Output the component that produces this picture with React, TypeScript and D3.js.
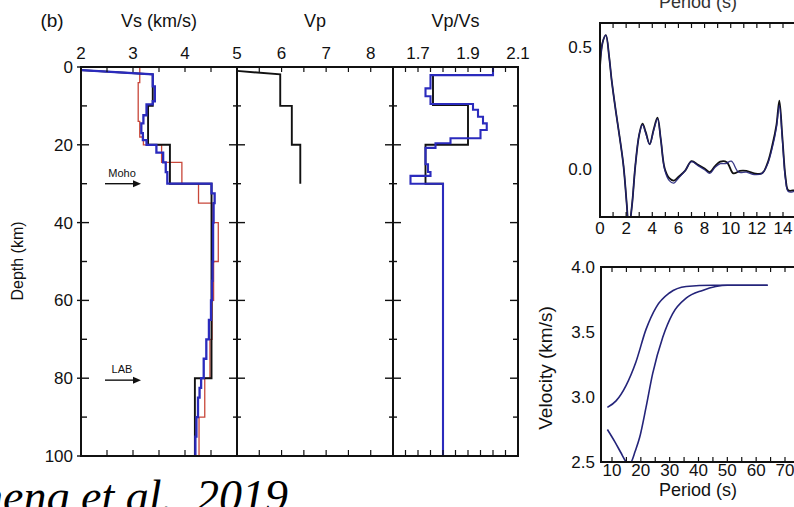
import React from "react";
import * as d3 from "d3";

// ---------- Depth profiles (layer tops in km, layer values) ----------
const MODEL_BOTTOM = 100;

// true model (black)
const vsTrueStart: [number, number] = [2.0, 0.8];
const vsTrueTops = [1.9, 10, 20, 30, 80];
const vsTrueVals = [3.38, 3.29, 3.71, 4.51, 4.19];

// inverted model (blue)
const vsInvStart: [number, number] = [2.01, 0.8];
const vsInvTops = [1.9, 5.0, 8.8, 9.6, 12.4, 14.5, 17.0, 18.8, 20, 22, 24.5, 27, 30, 32.5, 35, 40, 45, 50, 55, 60, 65, 70, 75, 80, 82.5, 85, 90, 95];
const vsInvVals = [3.38, 3.42, 3.38, 3.26, 3.20, 3.16, 3.19, 3.26, 3.45, 3.58, 3.63, 3.66, 4.51, 4.57, 4.55, 4.54, 4.54, 4.53, 4.52, 4.50, 4.46, 4.41, 4.36, 4.31, 4.28, 4.25, 4.22, 4.20];

// initial model (red)
const vsInitTops = [0, 4, 14, 18, 20, 24.5, 30, 35, 40, 50, 60, 70, 80, 90];
const vsInitVals = [3.13, 3.10, 3.13, 3.20, 3.55, 3.94, 4.26, 4.52, 4.64, 4.55, 4.52, 4.48, 4.38, 4.27];

// Vp (black), crust only
const vpStart: [number, number] = [5.0, 1.0];
const vpTops = [1.9, 10, 20];
const vpVals = [5.97, 6.23, 6.42];
const VP_BOTTOM = 30;

// Vp/Vs
const ratioTrueTops = [2.1, 9.8, 20, 30];
const ratioTrueVals = [1.76, 1.90, 1.73, 1.80];
const ratioInvTops = [0, 2.1, 5.5, 7.5, 9.5, 11, 12.8, 14.5, 16.2, 18.3, 19.6, 20.8, 25, 27, 28, 30];
const ratioInvVals = [2.0, 1.75, 1.73, 1.75, 1.92, 1.94, 1.96, 1.975, 1.95, 1.83, 1.77, 1.73, 1.74, 1.75, 1.67, 1.80];

// ---------- Receiver function (time s, amplitude) ----------
const rfTime = [0, 0.2, 0.45, 0.7, 0.9, 1.2, 1.5, 1.8, 2.05, 2.2, 2.45, 2.7, 3.0, 3.25, 3.5, 3.8, 4.1, 4.4, 4.65, 4.95, 5.3, 5.65, 6.0, 6.5, 7.0, 7.5, 8.0, 8.4, 8.8, 9.2, 9.7, 10.2, 10.7, 11.2, 11.8, 12.4, 12.8, 13.2, 13.5, 13.72, 13.95, 14.2, 14.4, 14.8, 15.2];
const rfObs = [0.42, 0.52, 0.55, 0.46, 0.36, 0.24, 0.13, 0.01, -0.15, -0.25, -0.15, 0.01, 0.14, 0.185, 0.15, 0.10, 0.16, 0.21, 0.12, 0.0, -0.04, -0.05, -0.035, -0.01, 0.03, 0.015, 0.0, -0.015, 0.01, 0.028, 0.026, -0.02, -0.01, -0.01, -0.02, -0.02, 0.02, 0.10, 0.18, 0.28, 0.13, -0.04, -0.09, -0.09, -0.08];
const rfPredTime = [0, 0.2, 0.45, 0.7, 0.9, 1.2, 1.5, 1.8, 2.05, 2.2, 2.45, 2.7, 3.0, 3.25, 3.5, 3.8, 4.1, 4.4, 4.65, 4.95, 5.3, 5.65, 6.0, 6.5, 7.0, 7.5, 8.0, 8.4, 8.8, 9.2, 9.6, 10.05, 10.6, 11.2, 11.8, 12.4, 12.8, 13.2, 13.5, 13.72, 13.95, 14.2, 14.4, 14.8, 15.2];
const rfPred = [0.42, 0.52, 0.55, 0.46, 0.36, 0.24, 0.13, 0.01, -0.15, -0.25, -0.15, 0.01, 0.14, 0.18, 0.145, 0.10, 0.155, 0.205, 0.12, -0.005, -0.05, -0.06, -0.04, -0.01, 0.028, 0.012, -0.005, -0.02, 0.005, 0.02, 0.02, 0.03, -0.015, -0.015, -0.025, -0.02, 0.015, 0.09, 0.17, 0.26, 0.12, -0.05, -0.095, -0.095, -0.08];

// ---------- Surface-wave dispersion (period s, velocity km/s) ----------
const dispUpperPeriod = [8.4, 11.4, 14.9, 18.3, 21.8, 25.3, 29.9, 35.7, 45, 55, 64];
const dispUpperVel = [2.92, 2.97, 3.09, 3.27, 3.52, 3.69, 3.80, 3.85, 3.86, 3.86, 3.86];
const dispLowerPeriod = [8.4, 11, 13, 14.9, 15.8, 16.7, 18, 19.6, 21.8, 24.1, 27.6, 31, 35.7, 41.4, 46, 50, 55, 64];
const dispLowerVel = [2.75, 2.655, 2.575, 2.50, 2.475, 2.50, 2.58, 2.69, 2.92, 3.18, 3.46, 3.64, 3.76, 3.82, 3.85, 3.86, 3.86, 3.86];

// ---------- Tick labels ----------
const depthLabels = [0, 20, 40, 60, 80, 100];
const vsLabels = [2, 3, 4, 5];
const vpLabels = [6, 7, 8];
const ratioLabels = [1.7, 1.9, 2.1];
const rfTimeLabels = [0, 2, 4, 6, 8, 10, 12, 14];
const rfAmpLabels = [0.5, 0.0];
const periodLabels = [10, 20, 30, 40, 50, 60, 70];
const velLabels = [4.0, 3.5, 3.0, 2.5];

const SANS = "'Liberation Sans', Arial, Helvetica, sans-serif";
const BLUE = "#2b2bbd";
const NAVY = "#24247a";
const RED = "#c8473a";
const INK = "#111";

function stepPoints(tops: number[], vals: number[], bottom: number, start?: [number, number]) {
  const pts: [number, number][] = start ? [start] : [];
  tops.forEach((t, i) => {
    const b = i < tops.length - 1 ? tops[i + 1] : bottom;
    pts.push([vals[i], t], [vals[i], b]);
  });
  return pts;
}

export default function App() {
  // depth panels
  const yD = d3.scaleLinear().domain([0, 100]).range([67, 456]);
  const xVs = d3.scaleLinear().domain([2, 5]).range([81, 237]);
  const xVp = d3.scaleLinear().domain([5, 8.5]).range([237, 393]);
  const xR = d3.scaleLinear().domain([1.6, 2.1]).range([393, 518]);
  const top = 67, bot = 456;

  const lineVs = d3.line<[number, number]>().x((p) => xVs(p[0])).y((p) => yD(p[1]));
  const lineVp = d3.line<[number, number]>().x((p) => xVp(p[0])).y((p) => yD(p[1]));
  const lineR = d3.line<[number, number]>().x((p) => xR(p[0])).y((p) => yD(p[1]));

  const vsTrue = stepPoints(vsTrueTops, vsTrueVals, MODEL_BOTTOM, vsTrueStart);
  const vsInv = stepPoints(vsInvTops, vsInvVals, MODEL_BOTTOM, vsInvStart);
  const vsInit = stepPoints(vsInitTops, vsInitVals, MODEL_BOTTOM);
  const vp = stepPoints(vpTops, vpVals, VP_BOTTOM, vpStart);
  const rTrue = stepPoints(ratioTrueTops, ratioTrueVals, MODEL_BOTTOM);
  const rInv = stepPoints(ratioInvTops, ratioInvVals, MODEL_BOTTOM);

  // receiver function panel
  const xT = d3.scaleLinear().domain([0, 14]).range([600, 783]);
  const yA = d3.scaleLinear().domain([-0.2, 0.6]).range([217, 23]);
  const rfLine = d3
    .line<number>()
    .x((_, i) => xT(rfTime[i]))
    .y((a) => yA(a))
    .curve(d3.curveCatmullRom);
  const rfPredLine = d3
    .line<number>()
    .x((_, i) => xT(rfPredTime[i]))
    .y((a) => yA(a))
    .curve(d3.curveCatmullRom);

  // dispersion panel
  const xP = d3.scaleLinear().domain([10, 70]).range([612, 785]);
  const yV = d3.scaleLinear().domain([2.5, 4.0]).range([462, 267]);
  const dispUpper = d3
    .line<number>()
    .x((_, i) => xP(dispUpperPeriod[i]))
    .y((v) => yV(v))
    .curve(d3.curveMonotoneX);
  const dispLower = d3
    .line<number>()
    .x((_, i) => xP(dispLowerPeriod[i]))
    .y((v) => yV(v))
    .curve(d3.curveMonotoneX);

  const depthTicks = d3.range(0, 101, 10);
  const vsTicks = d3.range(2.5, 5, 0.5);
  const vpTicks = d3.range(5.5, 8.5, 0.5);
  const rTicks = d3.range(1.65, 2.09, 0.05);

  const rfL = 600, rfR = 800, rfT = 23, rfB = 217;
  const dpL = 601, dpR = 800, dpT = 267, dpB = 462;

  const arrow = (y: number, label: string) => (
    <g>
      <text x={122} y={y - 7} textAnchor="middle" fontSize={11} fontFamily={SANS} fill={INK}>
        {label}
      </text>
      <line x1={105} x2={134} y1={y} y2={y} stroke={INK} strokeWidth={1.4} />
      <path d={`M${141},${y} L${133},${y - 3.5} L${133},${y + 3.5} Z`} fill={INK} />
    </g>
  );

  return (
    <div style={{ position: "absolute", left: 0, top: 0 }}>
      <svg width={794} height={507} style={{ display: "block", background: "#fff" }}>
        <defs>
          <clipPath id="clip-depth">
            <rect x={81} y={top} width={437} height={bot - top} />
          </clipPath>
          <clipPath id="clip-rf">
            <rect x={rfL} y={rfT} width={rfR - rfL} height={rfB - rfT} />
          </clipPath>
          <clipPath id="clip-disp">
            <rect x={dpL} y={dpT} width={dpR - dpL} height={dpB - dpT} />
          </clipPath>
        </defs>

        {/* panel titles */}
        <text x={52} y={27} textAnchor="middle" fontSize={19} fontFamily={SANS} fill={INK}>(b)</text>
        <text x={159} y={27} textAnchor="middle" fontSize={18} fontFamily={SANS} fill={INK}>Vs (km/s)</text>
        <text x={315} y={27} textAnchor="middle" fontSize={18} fontFamily={SANS} fill={INK}>Vp</text>
        <text x={455.5} y={27} textAnchor="middle" fontSize={18} fontFamily={SANS} fill={INK}>Vp/Vs</text>

        {/* top tick labels */}
        {vsLabels.map((v) => (
          <text key={"vs" + v} x={xVs(v)} y={59} textAnchor="middle" fontSize={17} fontFamily={SANS} fill={INK}>{v}</text>
        ))}
        {vpLabels.map((v) => (
          <text key={"vp" + v} x={xVp(v)} y={59} textAnchor="middle" fontSize={17} fontFamily={SANS} fill={INK}>{v}</text>
        ))}
        {ratioLabels.map((v) => (
          <text key={"r" + v} x={xR(v)} y={59} textAnchor="middle" fontSize={17} fontFamily={SANS} fill={INK}>{v.toFixed(1)}</text>
        ))}

        {/* depth labels */}
        {depthLabels.map((d) => (
          <text key={"d" + d} x={73} y={yD(d) + 6} textAnchor="end" fontSize={17} fontFamily={SANS} fill={INK}>{d}</text>
        ))}
        <text transform={`translate(23,261) rotate(-90)`} textAnchor="middle" fontSize={16} fontFamily={SANS} fill={INK}>Depth (km)</text>

        {/* profiles */}
        <g clipPath="url(#clip-depth)" fill="none" strokeLinejoin="miter">
          <path d={lineVs(vsInit) ?? ""} stroke={RED} strokeWidth={1.3} />
          <path d={lineVs(vsTrue) ?? ""} stroke={INK} strokeWidth={1.9} />
          <path d={lineVs(vsInv) ?? ""} stroke={BLUE} strokeWidth={2.3} />
          <path d={lineVp(vp) ?? ""} stroke={INK} strokeWidth={1.9} />
          <path d={lineR(rTrue) ?? ""} stroke={INK} strokeWidth={1.9} />
          <path d={lineR(rInv) ?? ""} stroke={BLUE} strokeWidth={2.1} />
        </g>

        {/* frames */}
        <g stroke={INK} strokeWidth={2} fill="none">
          <line x1={80} x2={519} y1={top} y2={top} />
          <line x1={80} x2={519} y1={bot} y2={bot} />
          {[81, 237, 393, 518].map((x) => (
            <line key={"fx" + x} x1={x} x2={x} y1={top} y2={bot} />
          ))}
        </g>

        {/* depth ticks */}
        <g stroke={INK} strokeWidth={1.4}>
          {depthTicks.map((d) => {
            const major = d % 20 === 0;
            const y = yD(d);
            return (
              <g key={"dt" + d}>
                <line x1={major ? 77 : 81} x2={major ? 89 : 87} y1={y} y2={y} />
                <line x1={major ? 229 : 233} x2={major ? 245 : 241} y1={y} y2={y} />
                <line x1={major ? 385 : 389} x2={major ? 401 : 397} y1={y} y2={y} />
                <line x1={major ? 510 : 513} x2={518} y1={y} y2={y} />
              </g>
            );
          })}
        </g>

        {/* top / bottom ticks */}
        <g stroke={INK} strokeWidth={1.2}>
          {vsTicks.map((v) => (
            <g key={"vst" + v}>
              <line x1={xVs(v)} x2={xVs(v)} y1={top} y2={top + 5} />
              <line x1={xVs(v)} x2={xVs(v)} y1={bot} y2={bot - 6} />
            </g>
          ))}
          {vpTicks.map((v) => (
            <g key={"vpt" + v}>
              <line x1={xVp(v)} x2={xVp(v)} y1={top} y2={top + 5} />
              <line x1={xVp(v)} x2={xVp(v)} y1={bot} y2={bot - 6} />
            </g>
          ))}
          {rTicks.map((v) => (
            <g key={"rt" + v}>
              <line x1={xR(v)} x2={xR(v)} y1={top} y2={top + 5} />
              <line x1={xR(v)} x2={xR(v)} y1={bot} y2={bot - 6} />
            </g>
          ))}
        </g>

        {arrow(yD(30), "Moho")}
        {arrow(yD(80.5), "LAB")}

        {/* receiver function panel */}
        <text x={698} y={8} textAnchor="middle" fontSize={18} fontFamily={SANS} fill="#333">Period (s)</text>
        <g clipPath="url(#clip-rf)" fill="none">
          <path d={rfLine(rfObs) ?? ""} stroke={INK} strokeWidth={1.8} />
          <path d={rfPredLine(rfPred) ?? ""} stroke={NAVY} strokeWidth={1.3} opacity={0.9} />
        </g>
        <rect x={rfL} y={rfT} width={rfR - rfL} height={rfB - rfT} fill="none" stroke={INK} strokeWidth={2} />
        <g stroke={INK} strokeWidth={1.2}>
          {d3.range(1, 15).map((t) => (
            <g key={"rft" + t}>
              <line x1={xT(t)} x2={xT(t)} y1={rfT} y2={rfT + 5} />
              <line x1={xT(t)} x2={xT(t)} y1={rfB} y2={rfB - 5} />
            </g>
          ))}
        </g>
        {rfTimeLabels.map((t) => (
          <text key={"rfl" + t} x={xT(t)} y={234} textAnchor="middle" fontSize={17} fontFamily={SANS} fill={INK}>{t}</text>
        ))}
        {rfAmpLabels.map((a) => (
          <text key={"ral" + a} x={592} y={yA(a) + 6} textAnchor="end" fontSize={17} fontFamily={SANS} fill={INK}>{a.toFixed(1)}</text>
        ))}

        {/* dispersion panel */}
        <g clipPath="url(#clip-disp)" fill="none">
          <path d={dispUpper(dispUpperVel) ?? ""} stroke={NAVY} strokeWidth={1.6} />
          <path d={dispLower(dispLowerVel) ?? ""} stroke={NAVY} strokeWidth={1.6} />
        </g>
        <rect x={dpL} y={dpT} width={dpR - dpL} height={dpB - dpT} fill="none" stroke={INK} strokeWidth={2} />
        <g stroke={INK} strokeWidth={1.2}>
          {d3.range(10, 80, 5).map((p) => (
            <g key={"pt" + p}>
              <line x1={xP(p)} x2={xP(p)} y1={dpT} y2={dpT + 5} />
              <line x1={xP(p)} x2={xP(p)} y1={dpB} y2={dpB - 5} />
            </g>
          ))}
        </g>
        {periodLabels.map((p) => (
          <text key={"pl" + p} x={xP(p)} y={476} textAnchor="middle" fontSize={17} fontFamily={SANS} fill={INK}>{p}</text>
        ))}
        {velLabels.map((v) => (
          <text key={"vl" + v} x={595} y={yV(v) + 6} textAnchor="end" fontSize={17} fontFamily={SANS} fill={INK}>{v.toFixed(1)}</text>
        ))}
        <text x={698} y={496} textAnchor="middle" fontSize={18} fontFamily={SANS} fill={INK}>Period (s)</text>
        <text transform={`translate(552,368) rotate(-90)`} textAnchor="middle" fontSize={19} fontFamily={SANS} fill={INK}>Velocity (km/s)</text>

        {/* citation */}
        <text x={288} y={512} textAnchor="end" fontSize={46} fontStyle="italic" fontFamily="'Liberation Serif', 'Times New Roman', serif" fill="#000">
          Zheng et al., 2019
        </text>
      </svg>
    </div>
  );
}
